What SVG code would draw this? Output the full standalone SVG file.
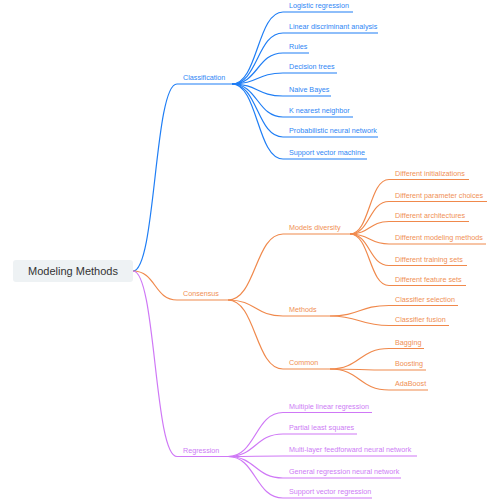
<svg xmlns="http://www.w3.org/2000/svg" width="500" height="500" viewBox="0 0 500 500">
<style>
text{font-family:"Liberation Sans",Arial,sans-serif;font-size:7.2px}
.b{stroke:#1f7ef5;fill:none;stroke-width:1.2}
.o{stroke:#f0894c;fill:none;stroke-width:1.2}
.p{stroke:#cf78f6;fill:none;stroke-width:1.2}
.tb{fill:#2f86f5}
.to{fill:#f08f55}
.tp{fill:#cd7cf5}
</style>
<rect width="500" height="500" fill="#fff"/>
<g id="connectors">
<path class="b" d="M133,271 C156,271 154,84 177,84 H232"/>
<path class="o" d="M133,271 C156,271 154,300 177,300 H228"/>
<path class="p" d="M133,271 C156,271 154,456.5 177,456.5 H228"/>
<path class="b" d="M232,84 C258,84 257,12 283,12 H353"/>
<path class="b" d="M232,84 C258,84 257,33 283,33 H378"/>
<path class="b" d="M232,84 C258,84 257,53 283,53 H309"/>
<path class="b" d="M232,84 C258,84 257,73 283,73 H337"/>
<path class="b" d="M232,84 C258,84 257,96 283,96 H331"/>
<path class="b" d="M232,84 C258,84 257,117 283,117 H353"/>
<path class="b" d="M232,84 C258,84 257,137 283,137 H378"/>
<path class="b" d="M232,84 C258,84 257,159 283,159 H367"/>
<path class="o" d="M228,300 C256,300 255,234 283,234 H350"/>
<path class="o" d="M228,300 C256,300 255,316 283,316 H330"/>
<path class="o" d="M228,300 C256,300 255,369 283,369 H330"/>
<path class="o" d="M350,234 C370,234 369,179.5 389,179.5 H469"/>
<path class="o" d="M350,234 C370,234 369,201.5 389,201.5 H487"/>
<path class="o" d="M350,234 C370,234 369,221.5 389,221.5 H469"/>
<path class="o" d="M350,234 C370,234 369,244 389,244 H486"/>
<path class="o" d="M350,234 C370,234 369,265.5 389,265.5 H467"/>
<path class="o" d="M350,234 C370,234 369,285.5 389,285.5 H466"/>
<path class="o" d="M330,316 C360,316 359,305.5 389,305.5 H458"/>
<path class="o" d="M330,316 C360,316 359,325.5 389,325.5 H449"/>
<path class="o" d="M330,369 C360,369 359,348.5 389,348.5 H424"/>
<path class="o" d="M330,369 C360,369 359,370 389,370 H426"/>
<path class="o" d="M330,369 C360,369 359,390 389,390 H428"/>
<path class="p" d="M228,456.5 C256,456.5 255,412.5 283,412.5 H372"/>
<path class="p" d="M228,456.5 C256,456.5 255,434 283,434 H357"/>
<path class="p" d="M228,456.5 C256,456.5 255,456 283,456 H417"/>
<path class="p" d="M228,456.5 C256,456.5 255,478 283,478 H401"/>
<path class="p" d="M228,456.5 C256,456.5 255,498 283,498 H372"/>
</g>
<g id="root">
<rect x="13" y="260" width="120" height="22" rx="3" fill="#eef2f4"/>
<text x="73" y="275" text-anchor="middle" style="font-size:11px;fill:#333">Modeling Methods</text>
</g>
<g id="classification"><text class="tb" x="183" y="80">Classification</text></g>
<g id="c1"><text class="tb" x="289" y="8">Logistic regression</text></g>
<g id="c2"><text class="tb" x="289" y="29">Linear discriminant analysis</text></g>
<g id="c3"><text class="tb" x="289" y="49">Rules</text></g>
<g id="c4"><text class="tb" x="289" y="69">Decision trees</text></g>
<g id="c5"><text class="tb" x="289" y="92">Naive Bayes</text></g>
<g id="c6"><text class="tb" x="289" y="113">K nearest neighbor</text></g>
<g id="c7"><text class="tb" x="289" y="133">Probabilistic neural network</text></g>
<g id="c8"><text class="tb" x="289" y="155">Support vector machine</text></g>
<g id="consensus"><text class="to" x="183" y="296">Consensus</text></g>
<g id="models-diversity"><text class="to" x="289" y="230">Models diversity</text></g>
<g id="methods"><text class="to" x="289" y="312">Methods</text></g>
<g id="common"><text class="to" x="289" y="365">Common</text></g>
<g id="d1"><text class="to" x="395" y="175.5">Different initializations</text></g>
<g id="d2"><text class="to" x="395" y="197.5">Different parameter choices</text></g>
<g id="d3"><text class="to" x="395" y="217.5">Different architectures</text></g>
<g id="d4"><text class="to" x="395" y="240">Different modeling methods</text></g>
<g id="d5"><text class="to" x="395" y="261.5">Different training sets</text></g>
<g id="d6"><text class="to" x="395" y="281.5">Different feature sets</text></g>
<g id="m1"><text class="to" x="395" y="301.5">Classifier selection</text></g>
<g id="m2"><text class="to" x="395" y="321.5">Classifier fusion</text></g>
<g id="k1"><text class="to" x="395" y="344.5">Bagging</text></g>
<g id="k2"><text class="to" x="395" y="366">Boosting</text></g>
<g id="k3"><text class="to" x="395" y="386">AdaBoost</text></g>
<g id="regression"><text class="tp" x="183" y="452.5">Regression</text></g>
<g id="r1"><text class="tp" x="289" y="408.5">Multiple linear regression</text></g>
<g id="r2"><text class="tp" x="289" y="430">Partial least squares</text></g>
<g id="r3"><text class="tp" x="289" y="452">Multi-layer feedforward neural network</text></g>
<g id="r4"><text class="tp" x="289" y="474">General regression neural network</text></g>
<g id="r5"><text class="tp" x="289" y="494">Support vector regression</text></g>
</svg>
